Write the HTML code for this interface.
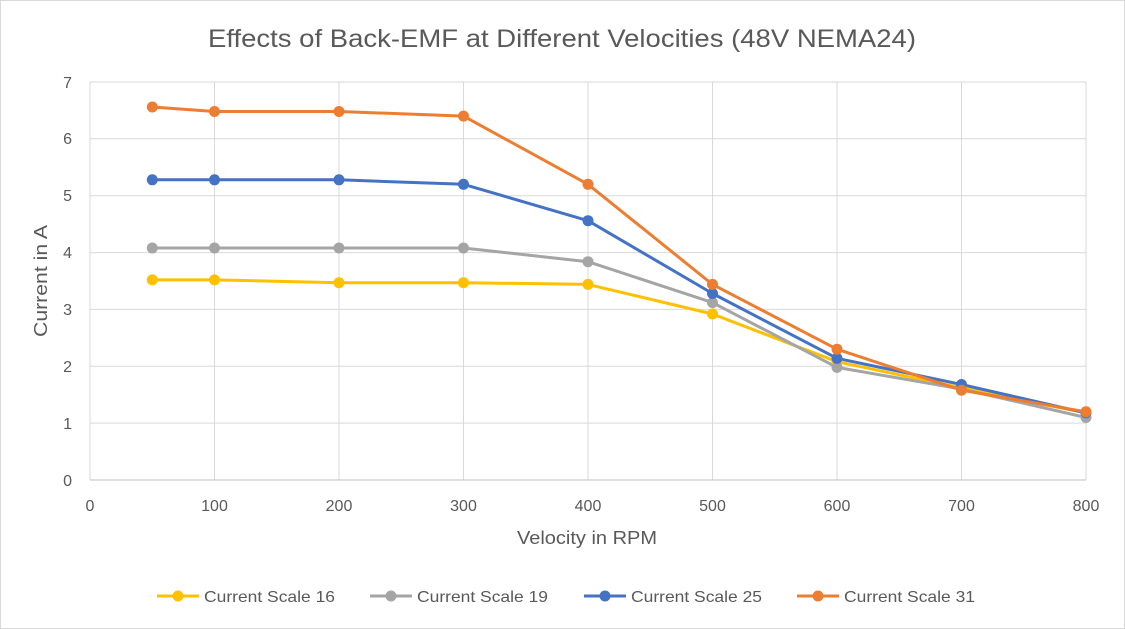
<!DOCTYPE html>
<html><head><meta charset="utf-8"><style>
html,body{margin:0;padding:0;background:#fff}
svg{display:block;font-family:"Liberation Sans",sans-serif}
</style></head><body>
<svg width="1125" height="629" viewBox="0 0 1125 629" xmlns="http://www.w3.org/2000/svg">
<rect x="0.5" y="0.5" width="1124" height="628" fill="#fff" stroke="#d9d9d9"/>
<text x="208" y="47" font-size="25" fill="#595959" textLength="708" lengthAdjust="spacingAndGlyphs">Effects of Back-EMF at Different Velocities (48V NEMA24)</text>
<g stroke="#d9d9d9" stroke-width="1">
<line x1="90" y1="82" x2="1086" y2="82"/><line x1="90" y1="138.8" x2="1086" y2="138.8"/>
<line x1="90" y1="195.7" x2="1086" y2="195.7"/><line x1="90" y1="252.6" x2="1086" y2="252.6"/>
<line x1="90" y1="309.4" x2="1086" y2="309.4"/><line x1="90" y1="366.3" x2="1086" y2="366.3"/>
<line x1="90" y1="423.1" x2="1086" y2="423.1"/>
<line x1="214.5" y1="82" x2="214.5" y2="480"/><line x1="339" y1="82" x2="339" y2="480"/>
<line x1="463.5" y1="82" x2="463.5" y2="480"/><line x1="588" y1="82" x2="588" y2="480"/>
<line x1="712.5" y1="82" x2="712.5" y2="480"/><line x1="837" y1="82" x2="837" y2="480"/>
<line x1="961.5" y1="82" x2="961.5" y2="480"/><line x1="1086" y1="82" x2="1086" y2="480"/>
<line x1="90" y1="82" x2="90" y2="480"/>
</g>
<line x1="90" y1="480" x2="1086" y2="480" stroke="#bfbfbf"/>
<g font-size="16" fill="#595959" text-anchor="end">
<text x="72" y="486">0</text><text x="72" y="429">1</text><text x="72" y="372">2</text>
<text x="72" y="315">3</text><text x="72" y="258">4</text><text x="72" y="201">5</text>
<text x="72" y="144">6</text><text x="72" y="88">7</text>
</g>
<g font-size="16" fill="#595959" text-anchor="middle">
<text x="90" y="511">0</text><text x="214.5" y="511">100</text><text x="339" y="511">200</text>
<text x="463.5" y="511">300</text><text x="588" y="511">400</text><text x="712.5" y="511">500</text>
<text x="837" y="511">600</text><text x="961.5" y="511">700</text><text x="1086" y="511">800</text>
</g>
<text x="517" y="544" font-size="18" fill="#595959" textLength="140" lengthAdjust="spacingAndGlyphs">Velocity in RPM</text>
<text transform="translate(47 281) rotate(-90)" font-size="18" fill="#595959" x="-56" textLength="112" lengthAdjust="spacingAndGlyphs">Current in A</text>
<g fill="none" stroke-width="3" stroke-linejoin="round">
<polyline stroke="#FFC000" points="152.3,279.9 214.5,279.9 339,282.7 463.5,282.7 588,284.4 712.5,314 837,361.7 961.5,387.9 1086,412.9"/>
<polyline stroke="#A5A5A5" points="152.3,248 214.5,248 339,248 463.5,248 588,261.7 712.5,302.6 837,367.4 961.5,389 1086,417.5"/>
<polyline stroke="#4472C4" points="152.3,179.8 214.5,179.8 339,179.8 463.5,184.3 588,220.7 712.5,293.5 837,358.3 961.5,384.5 1086,412.9"/>
<polyline stroke="#ED7D31" points="152.3,107 214.5,111.5 339,111.5 463.5,116.1 588,184.3 712.5,284.4 837,349.2 961.5,390.2 1086,411.8"/>
</g>
<g fill="#FFC000"><circle cx="152.3" cy="279.9" r="5.5"/><circle cx="214.5" cy="279.9" r="5.5"/><circle cx="339" cy="282.7" r="5.5"/><circle cx="463.5" cy="282.7" r="5.5"/><circle cx="588" cy="284.4" r="5.5"/><circle cx="712.5" cy="314" r="5.5"/><circle cx="837" cy="361.7" r="5.5"/><circle cx="961.5" cy="387.9" r="5.5"/><circle cx="1086" cy="412.9" r="5.5"/></g>
<g fill="#A5A5A5"><circle cx="152.3" cy="248" r="5.5"/><circle cx="214.5" cy="248" r="5.5"/><circle cx="339" cy="248" r="5.5"/><circle cx="463.5" cy="248" r="5.5"/><circle cx="588" cy="261.7" r="5.5"/><circle cx="712.5" cy="302.6" r="5.5"/><circle cx="837" cy="367.4" r="5.5"/><circle cx="961.5" cy="389" r="5.5"/><circle cx="1086" cy="417.5" r="5.5"/></g>
<g fill="#4472C4"><circle cx="152.3" cy="179.8" r="5.5"/><circle cx="214.5" cy="179.8" r="5.5"/><circle cx="339" cy="179.8" r="5.5"/><circle cx="463.5" cy="184.3" r="5.5"/><circle cx="588" cy="220.7" r="5.5"/><circle cx="712.5" cy="293.5" r="5.5"/><circle cx="837" cy="358.3" r="5.5"/><circle cx="961.5" cy="384.5" r="5.5"/><circle cx="1086" cy="412.9" r="5.5"/></g>
<g fill="#ED7D31"><circle cx="152.3" cy="107" r="5.5"/><circle cx="214.5" cy="111.5" r="5.5"/><circle cx="339" cy="111.5" r="5.5"/><circle cx="463.5" cy="116.1" r="5.5"/><circle cx="588" cy="184.3" r="5.5"/><circle cx="712.5" cy="284.4" r="5.5"/><circle cx="837" cy="349.2" r="5.5"/><circle cx="961.5" cy="390.2" r="5.5"/><circle cx="1086" cy="411.8" r="5.5"/></g>
<g font-size="16" fill="#595959">
<line x1="157" y1="596" x2="199" y2="596" stroke="#FFC000" stroke-width="3"/><circle cx="178" cy="596" r="5.5" fill="#FFC000"/>
<text x="204" y="602" textLength="131" lengthAdjust="spacingAndGlyphs">Current Scale 16</text>
<line x1="370" y1="596" x2="412" y2="596" stroke="#A5A5A5" stroke-width="3"/><circle cx="391" cy="596" r="5.5" fill="#A5A5A5"/>
<text x="417" y="602" textLength="131" lengthAdjust="spacingAndGlyphs">Current Scale 19</text>
<line x1="584" y1="596" x2="626" y2="596" stroke="#4472C4" stroke-width="3"/><circle cx="605" cy="596" r="5.5" fill="#4472C4"/>
<text x="631" y="602" textLength="131" lengthAdjust="spacingAndGlyphs">Current Scale 25</text>
<line x1="797" y1="596" x2="839" y2="596" stroke="#ED7D31" stroke-width="3"/><circle cx="818" cy="596" r="5.5" fill="#ED7D31"/>
<text x="844" y="602" textLength="131" lengthAdjust="spacingAndGlyphs">Current Scale 31</text>
</g>
</svg>
</body></html>
